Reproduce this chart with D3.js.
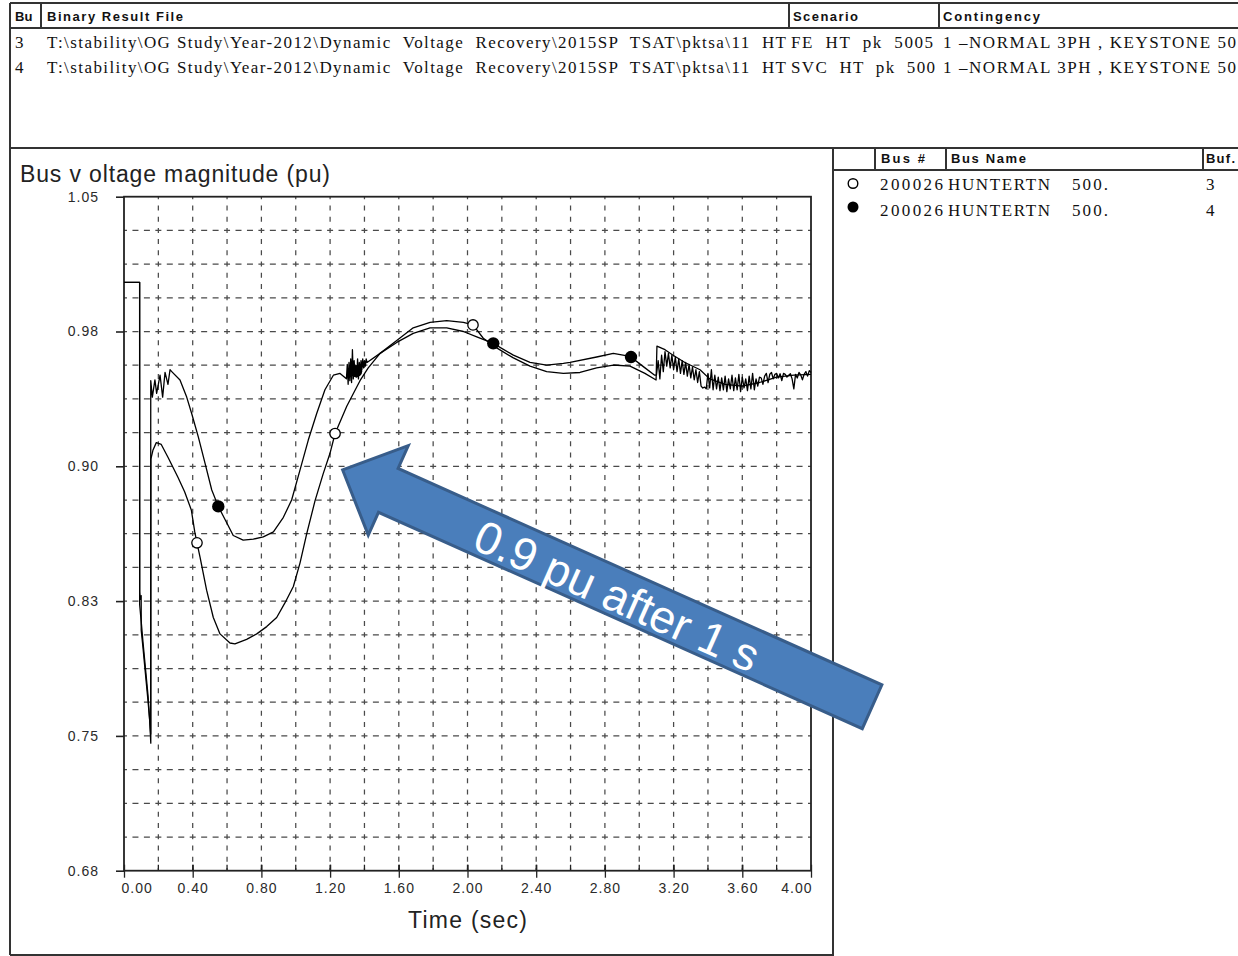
<!DOCTYPE html>
<html>
<head>
<meta charset="utf-8">
<script src="https://cdn.jsdelivr.net/npm/d3@7"></script>
<style>
  html, body { margin: 0; padding: 0; background: #fff; }
  svg { display: block; }
  .hdr { font-family: "Liberation Sans", Arial, sans-serif; font-weight: bold; font-size: 13px; fill: #111; }
  .row { font-family: "Liberation Serif", "Times New Roman", serif; font-size: 17px; fill: #111; white-space: pre; }
  .tick text { font-family: "Liberation Sans", Arial, sans-serif; font-size: 14px; fill: #2a2a2a; letter-spacing: 1px; }
</style>
</head>
<body>
<svg id="chart" width="1238" height="956"></svg>
<script>
// ---------- table contents ----------
const bufferIds = ["3", "4"];
const resultFiles = [
  "T:\\stability\\OG Study\\Year-2012\\Dynamic  Voltage  Recovery\\2015SP  TSAT\\pktsa\\11  HT",
  "T:\\stability\\OG Study\\Year-2012\\Dynamic  Voltage  Recovery\\2015SP  TSAT\\pktsa\\11  HT"
];
const scenarios = ["FE  HT  pk  5005", "SVC  HT  pk  500"];
const contingencies = ["1 \u2013NORMAL 3PH , KEYSTONE 50", "1 \u2013NORMAL 3PH , KEYSTONE 50"];
const busNumbers = ["200026", "200026"];
const busNames = ["HUNTERTN", "HUNTERTN"];
const busKv = ["500.", "500."];

// ---------- axes ----------
const yTickValues = [0.68, 0.754, 0.828, 0.902, 0.976, 1.05];
const yTickLabels = ["0.68", "0.75", "0.83", "0.90", "0.98", "1.05"];
const xTickValues = [0, 0.4, 0.8, 1.2, 1.6, 2.0, 2.4, 2.8, 3.2, 3.6, 4.0];
const xTickLabels = ["0.00", "0.40", "0.80", "1.20", "1.60", "2.00", "2.40", "2.80", "3.20", "3.60", "4.00"];

// ---------- bus voltage, buffer 3 (FE case), open markers ----------
const feTime = [0, 0.091, 0.0912, 0.100, 0.110, 0.120, 0.130, 0.140, 0.150, 0.156,
  0.1565, 0.169, 0.188, 0.217, 0.256, 0.314, 0.353, 0.392, 0.412, 0.425,
  0.443, 0.481, 0.520, 0.559, 0.617, 0.646, 0.714, 0.773, 0.831, 0.889,
  0.937, 0.986, 1.025, 1.064, 1.112, 1.160, 1.199, 1.229, 1.297, 1.374,
  1.422, 1.491, 1.588, 1.684, 1.782, 1.879, 1.976, 2.032, 2.092, 2.170,
  2.267, 2.364, 2.461, 2.558, 2.655, 2.752, 2.849, 2.946, 3.033, 3.098,
  3.103, 3.150, 3.197, 3.266, 3.354, 3.410, 3.500, 3.600, 3.700, 3.800,
  3.900, 4.000];
const feVolt = [1.003, 1.003, 0.826, 0.817, 0.806, 0.796, 0.786, 0.776, 0.762, 0.750,
  0.906, 0.911, 0.915, 0.914, 0.907, 0.896, 0.888, 0.878, 0.866, 0.860,
  0.852, 0.834, 0.819, 0.810, 0.805, 0.8045, 0.807, 0.810, 0.814, 0.819,
  0.827, 0.836, 0.849, 0.865, 0.883, 0.898, 0.909, 0.920, 0.935, 0.949,
  0.956, 0.964, 0.971, 0.978, 0.981, 0.982, 0.981, 0.9796, 0.9723, 0.967,
  0.9615, 0.957, 0.954, 0.953, 0.9535, 0.956, 0.9576, 0.957, 0.953, 0.9494,
  0.968, 0.966, 0.963, 0.959, 0.955, 0.950, 0.947, 0.946, 0.948, 0.951,
  0.952, 0.9525];
const feMarkerTimes = [0.425, 1.229, 2.032];

// ---------- bus voltage, buffer 4 (SVC case), filled markers ----------
const svcTime = [0, 0.091, 0.0912, 0.095, 0.100, 0.1002, 0.110, 0.120, 0.130, 0.140,
  0.150, 0.1555, 0.1557, 0.165, 0.180, 0.190, 0.210, 0.225, 0.239, 0.256,
  0.268, 0.278, 0.326, 0.365, 0.394, 0.433, 0.472, 0.511, 0.549, 0.598,
  0.636, 0.694, 0.753, 0.811, 0.870, 0.928, 0.976, 1.025, 1.073, 1.122,
  1.170, 1.219, 1.258,
  1.295, 1.300, 1.305, 1.310, 1.315, 1.320, 1.325, 1.330, 1.335, 1.340,
  1.345, 1.350, 1.355, 1.360, 1.365, 1.370, 1.375, 1.380, 1.385, 1.390,
  1.395, 1.400, 1.405, 1.410, 1.415,
  1.491, 1.588, 1.684, 1.782, 1.879, 1.976, 2.054, 2.150, 2.267, 2.364,
  2.461, 2.558, 2.597, 2.752, 2.849, 2.946, 3.020, 3.090,
  3.10, 3.11, 3.12, 3.13, 3.14, 3.15, 3.16, 3.17, 3.18, 3.19,
  3.20, 3.21, 3.22, 3.23, 3.24, 3.25, 3.26, 3.27, 3.28, 3.29,
  3.30, 3.31, 3.32, 3.33, 3.34, 3.35, 3.36, 3.37, 3.38, 3.39,
  3.40, 3.41, 3.42, 3.43, 3.44, 3.45, 3.46, 3.47, 3.48, 3.49,
  3.50, 3.51, 3.52, 3.53, 3.54, 3.55, 3.56, 3.57, 3.58, 3.59,
  3.60, 3.61, 3.62, 3.63, 3.64, 3.65, 3.66, 3.67, 3.68, 3.69,
  3.70, 3.71, 3.72, 3.73, 3.74, 3.75, 3.76, 3.77, 3.78, 3.79,
  3.80, 3.81, 3.82, 3.83, 3.84, 3.85, 3.86, 3.87, 3.88, 3.89,
  3.90, 3.91, 3.92, 3.93, 3.94, 3.95, 3.96, 3.97, 3.98, 3.99, 4.00];
const svcVolt = [1.003, 1.003, 0.833, 0.829, 0.831, 0.812, 0.803, 0.793, 0.783, 0.773,
  0.762, 0.755, 0.949, 0.940, 0.9494, 0.942, 0.952, 0.940, 0.9536, 0.947,
  0.955, 0.954, 0.9494, 0.940, 0.931, 0.918, 0.9036, 0.889, 0.880, 0.871,
  0.864, 0.8615, 0.862, 0.8633, 0.866, 0.874, 0.8835, 0.900, 0.9164, 0.931,
  0.944, 0.952, 0.953,
  0.950, 0.958, 0.947, 0.959, 0.949, 0.961, 0.948, 0.966, 0.950, 0.960,
  0.952, 0.955, 0.951, 0.961, 0.950, 0.959, 0.953, 0.960, 0.955, 0.961,
  0.956, 0.960, 0.957, 0.961, 0.959,
  0.964, 0.970, 0.975, 0.978, 0.978, 0.976, 0.973, 0.9695, 0.963, 0.959,
  0.9575, 0.9585, 0.959, 0.962, 0.964, 0.9624, 0.957, 0.952,
  0.9520, 0.9600, 0.9500, 0.9630, 0.9540, 0.9650, 0.9570, 0.9640, 0.9560, 0.9630,
  0.9550, 0.9620, 0.9540, 0.9610, 0.9530, 0.9600, 0.9525, 0.9590, 0.9515, 0.9580,
  0.9505, 0.9565, 0.9495, 0.9550, 0.9480, 0.9540, 0.9460, 0.9450, 0.9455, 0.9445,
  0.9530, 0.9450, 0.9550, 0.9440, 0.9520, 0.9445, 0.9510, 0.9435, 0.9505, 0.9440,
  0.9515, 0.9430, 0.9500, 0.9445, 0.9520, 0.9435, 0.9505, 0.9440, 0.9525, 0.9430,
  0.9510, 0.9450, 0.9500, 0.9435, 0.9515, 0.9445, 0.9530, 0.9440, 0.9500, 0.9460,
  0.9510, 0.9505, 0.9470, 0.9515, 0.9530, 0.9480, 0.9525, 0.9535, 0.9500, 0.9525,
  0.9530, 0.9505, 0.9528, 0.9490, 0.9530, 0.9525, 0.9510, 0.9520, 0.9528, 0.9500,
  0.9445, 0.9525, 0.9505, 0.9535, 0.9522, 0.9495, 0.9525, 0.9540, 0.9515, 0.9545, 0.9535];
const svcMarkerTimes = [0.549, 1.351, 2.150, 2.952];

// annotation: arrow tip sits on (time, voltage)
const arrowTip = { t: 1.273, v: 0.90 };
const arrowText = "0.9 pu after 1 s";

// ---------- drawing ----------
const svg = d3.select("#chart");
svg.append("rect").attr("width", 1238).attr("height", 956).attr("fill", "#fff");

const x = d3.scaleLinear().domain([0, 4]).range([124, 811]);
const y = d3.scaleLinear().domain([0.68, 1.05]).range([870.7, 196.7]);

const frameColor = "#333";

// panel borders
const borders = svg.append("g").attr("stroke", frameColor).attr("stroke-width", 2).attr("fill", "none");
[[10, 3, 1238, 3], [10, 3, 10, 955], [10, 28, 1238, 28], [10, 148, 1238, 148],
 [10, 955, 833, 955], [833, 148, 833, 956], [833, 170, 1238, 170],
 [41, 3, 41, 28], [789, 3, 789, 28], [939, 3, 939, 28],
 [875, 148, 875, 170], [946, 148, 946, 170], [1203, 148, 1203, 170]
].forEach(d => borders.append("line").attr("x1", d[0]).attr("y1", d[1]).attr("x2", d[2]).attr("y2", d[3]));

// helper for fitted text
function fitted(sel, cls, str, xPos, yb, len) {
  const t = sel.append("text").attr("class", cls).attr("x", xPos).attr("y", yb).text(str);
  if (len) t.attr("textLength", len).attr("lengthAdjust", "spacing");
  return t;
}

// result file table header
const fileTable = svg.append("g");
fitted(fileTable, "hdr", "Bu", 15, 21);
fitted(fileTable, "hdr", "Binary Result File", 47, 21, 136);
fitted(fileTable, "hdr", "Scenario", 793, 21, 65);
fitted(fileTable, "hdr", "Contingency", 943, 21, 97);

// result file table rows
bufferIds.forEach((b, i) => {
  const yb = 47.5 + i * 25;
  fitted(fileTable, "row", b, 15, yb);
  fitted(fileTable, "row", resultFiles[i], 47, yb, 739);
  fitted(fileTable, "row", scenarios[i], 791, yb, i === 0 ? 142 : 144);
  fitted(fileTable, "row", contingencies[i], 943, yb, 293);
});

// legend table
const legendTable = svg.append("g");
fitted(legendTable, "hdr", "Bus #", 881, 163, 44);
fitted(legendTable, "hdr", "Bus Name", 951, 163, 75);
fitted(legendTable, "hdr", "Buf.", 1206, 163, 29);
busNumbers.forEach((n, i) => {
  const yb = 190 + i * 26;
  fitted(legendTable, "row", n, 880, yb, 63);
  fitted(legendTable, "row", busNames[i], 948, yb, 102);
  fitted(legendTable, "row", busKv[i], 1072, yb, 36);
  fitted(legendTable, "row", bufferIds[i], 1206, yb);
});
legendTable.append("circle").attr("cx", 853).attr("cy", 183.5).attr("r", 4.8)
  .attr("fill", "#fff").attr("stroke", "#000").attr("stroke-width", 1.4);
legendTable.append("circle").attr("cx", 853).attr("cy", 207).attr("r", 5.5).attr("fill", "#000");

// chart title
svg.append("text").attr("x", 20).attr("y", 182)
  .attr("font-family", "Liberation Sans, Arial, sans-serif").attr("font-size", 23)
  .attr("fill", "#222").attr("textLength", 310).attr("lengthAdjust", "spacing")
  .text("Bus v oltage magnitude (pu)");

// x axis title
svg.append("text").attr("x", 408).attr("y", 928)
  .attr("font-family", "Liberation Sans, Arial, sans-serif").attr("font-size", 23)
  .attr("fill", "#222").attr("textLength", 119).attr("lengthAdjust", "spacing")
  .text("Time (sec)");

// grid
const [x0, x1] = x.range();
const [yb0, yt0] = y.range();
const xStep = 0.2, yStep = (1.05 - 0.68) / 20;
const grid = svg.append("g").attr("stroke", "#4a4a4a").attr("stroke-width", 1.25);
d3.range(1, 20).forEach(i => {
  const gxPos = x(i * xStep);
  grid.append("line").attr("x1", gxPos).attr("x2", gxPos).attr("y1", yt0).attr("y2", yb0)
    .attr("stroke-dasharray", "5,6.23").attr("stroke-dashoffset", 2.5);
  const gyPos = y(0.68 + i * yStep);
  grid.append("line").attr("x1", x0).attr("x2", x1).attr("y1", gyPos).attr("y2", gyPos)
    .attr("stroke-dasharray", "6,5.45").attr("stroke-dashoffset", 3);
});

// minor ticks (inside)
const minor = svg.append("g").attr("stroke", "#222").attr("stroke-width", 1.3);
d3.range(1, 20).forEach(i => {
  const gxPos = x(i * xStep);
  minor.append("line").attr("x1", gxPos).attr("x2", gxPos).attr("y1", yb0 - 6).attr("y2", yb0);
});

// axes
const yAxis = d3.axisLeft(y).tickValues(yTickValues).tickSize(8).tickPadding(17)
  .tickFormat((d, i) => yTickLabels[i]);
const gY = svg.append("g").attr("transform", `translate(${x0},0)`).call(yAxis);
gY.select(".domain").remove();
gY.selectAll(".tick line").attr("stroke", "#222").attr("stroke-width", 1.6);
gY.selectAll(".tick text").attr("fill", "#2a2a2a");

const xAxis = d3.axisBottom(x).tickValues(xTickValues).tickSize(7).tickPadding(5.5)
  .tickFormat((d, i) => xTickLabels[i]);
const gX = svg.append("g").attr("transform", `translate(0,${yb0})`).call(xAxis);
gX.select(".domain").remove();
gX.selectAll(".tick line").attr("stroke", "#222").attr("stroke-width", 1.3).attr("y1", -6);
gX.selectAll(".tick text").attr("fill", "#2a2a2a")
  .attr("text-anchor", (d, i) => i === 0 ? "start" : (i === xTickValues.length - 1 ? "end" : "middle"))
  .attr("dx", (d, i) => i === 0 ? -3 : (i === xTickValues.length - 1 ? 1 : 0));

// plot frame
svg.append("rect").attr("x", x0).attr("y", yt0).attr("width", x1 - x0).attr("height", yb0 - yt0)
  .attr("fill", "none").attr("stroke", "#222").attr("stroke-width", 1.8);

// curves
const line = d3.line().x(d => x(d[0])).y(d => y(d[1]));
const feData = feTime.map((t, i) => [t, feVolt[i]]);
const svcData = svcTime.map((t, i) => [t, svcVolt[i]]);
const curves = svg.append("g").attr("fill", "none").attr("stroke", "#000").attr("stroke-width", 1.3)
  .attr("stroke-linejoin", "round");
curves.append("path").attr("d", line(feData));
curves.append("path").attr("d", line(svcData));

// markers placed on the curves
function valueAt(data, t) {
  const i = d3.bisector(d => d[0]).left(data, t);
  if (i <= 0) return data[0][1];
  if (i >= data.length) return data[data.length - 1][1];
  const a = data[i - 1], b = data[i];
  return a[1] + (b[1] - a[1]) * (t - a[0]) / (b[0] - a[0]);
}
const marks = svg.append("g");
feMarkerTimes.forEach(t => {
  marks.append("circle").attr("cx", x(t)).attr("cy", y(valueAt(feData, t))).attr("r", 5.2)
    .attr("fill", "#fff").attr("stroke", "#000").attr("stroke-width", 1.3);
});
svcMarkerTimes.forEach(t => {
  marks.append("circle").attr("cx", x(t)).attr("cy", y(valueAt(svcData, t))).attr("r", 6.2)
    .attr("fill", "#000");
});

// annotation arrow
const arrowAngle = 24.1, arrowLen = 580, shaftHalf = 24, headHalf = 49, headLen = 50;
const arrowG = svg.append("g")
  .attr("transform", `translate(${x(arrowTip.t)},${y(arrowTip.v)}) rotate(${arrowAngle})`);
arrowG.append("path")
  .attr("d", `M0,0 L${headLen},${-headHalf} L${headLen},${-shaftHalf} L${arrowLen},${-shaftHalf} ` +
             `L${arrowLen},${shaftHalf} L${headLen},${shaftHalf} L${headLen},${headHalf} Z`)
  .attr("fill", "#4a7ebb").attr("stroke", "#385d8a").attr("stroke-width", 3)
  .attr("stroke-linejoin", "miter");
arrowG.append("text").attr("x", 302).attr("y", 3)
  .attr("text-anchor", "middle").attr("dominant-baseline", "central")
  .attr("font-family", "Liberation Sans, Arial, sans-serif").attr("font-size", 46)
  .attr("fill", "#fff").text(arrowText);
</script>
</body>
</html>
